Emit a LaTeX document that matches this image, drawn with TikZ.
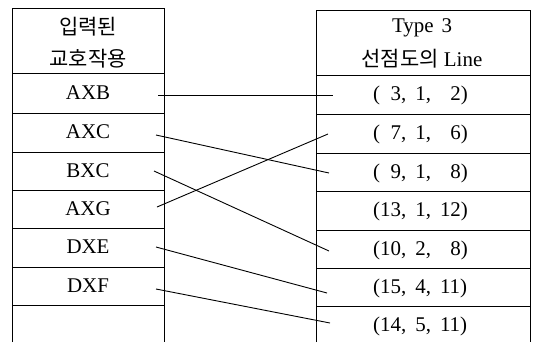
\documentclass[tikz,border=0pt]{standalone}
\usepackage{fontspec}
\setmainfont{Liberation Serif}
\newfontfamily\kr{Noto Sans CJK KR}
\newcommand{\gp}{\hspace{9bp}}
\newcommand{\pd}{\phantom{1}}
\begin{document}
\begin{tikzpicture}[x=1bp,y=-1bp,
  grid/.style={line width=0.9bp},
  conn/.style={line width=0.9bp},
  txt/.style={inner sep=0pt, font=\fontsize{21}{24}\selectfont, text height=14bp, text depth=4bp},
  num/.style={txt, anchor=west}]
\useasboundingbox (0,0) rectangle (536,342);
% left table
\draw[grid] (12.7,342) -- (12.7,8) -- (164,8) -- (164,342);
\foreach \y in {73,113,152,190,228,267,305} \draw[grid] (12.7,\y) -- (164,\y);
% right table
\draw[grid] (316,342) -- (316,10) -- (530,10) -- (530,342);
\foreach \y in {75,114,153,191,230,268,306} \draw[grid] (316,\y) -- (530,\y);
% headers
\node[txt] (hl1) at (88,29) {\kr 입력된};
\node[txt] (hl2) at (88,61) {\kr 교호작용};
\node[txt] (hr1) at (422,27) {Type\hspace{8bp}3};
\node[txt] (hr2) at (422,61) {{\kr 선점도의} Line};
% left cells
\node[txt] (in1) at (88,94) {AXB};
\node[txt] (in2) at (88,133.5) {AXC};
\node[txt] (in3) at (88,172) {BXC};
\node[txt] (in4) at (88,210) {AXG};
\node[txt] (in5) at (88,248.5) {DXE};
\node[txt] (in6) at (88,287) {DXF};
% right cells
\node[num] (out1) at (373,95.5) {(\pd3,\gp1,\gp\pd2)};
\node[num] (out2) at (373,134.5) {(\pd7,\gp1,\gp\pd6)};
\node[num] (out3) at (373,173) {(\pd9,\gp1,\gp\pd8)};
\node[num] (out4) at (373,211.5) {(13,\gp1,\gp12)};
\node[num] (out5) at (373,250) {(10,\gp2,\gp\pd8)};
\node[num] (out6) at (373,288) {(15,\gp4,\gp11)};
\node[num] (out7) at (373,326) {(14,\gp5,\gp11)};
% connector ends
\coordinate (s1) at (158,95);  \coordinate (e1) at (333,95);
\coordinate (s2) at (156,135); \coordinate (e3) at (329,173);
\coordinate (s3) at (154,171); \coordinate (e5) at (329,251);
\coordinate (s4) at (157,207); \coordinate (e2) at (328,134);
\coordinate (s5) at (156,247); \coordinate (e6) at (327,293);
\coordinate (s6) at (156,289); \coordinate (e7) at (330,323);
\draw[conn] (s1) -- (e1);
\draw[conn] (s2) -- (e3);
\draw[conn] (s3) -- (e5);
\draw[conn] (s4) -- (e2);
\draw[conn] (s5) -- (e6);
\draw[conn] (s6) -- (e7);
\end{tikzpicture}
\end{document}
